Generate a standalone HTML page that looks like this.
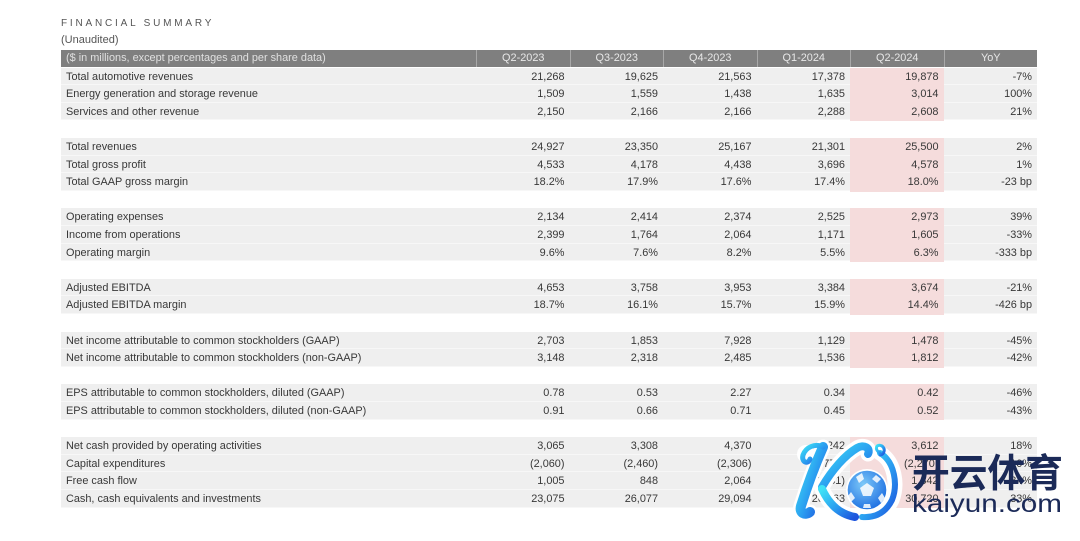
<!DOCTYPE html>
<html>
<head>
<meta charset="utf-8">
<style>
  html,body{margin:0;padding:0;background:#ffffff;}
  body{width:1080px;height:541px;position:relative;overflow:hidden;font-family:"Liberation Sans",Arial,sans-serif;color:#383838;}
  .title{position:absolute;left:61px;top:18px;font-size:10px;letter-spacing:2.8px;color:#555;}
  .sub{position:absolute;left:61px;top:34px;font-size:11px;color:#555;}
  .row{position:absolute;left:61px;width:976px;height:17.6px;display:grid;grid-template-columns:415px repeat(6,93.5px);font-size:10.9px;line-height:18.4px;background:#efefef;box-shadow:inset 0 -1px 0 #f7f7f7;}
  .row div{white-space:nowrap;text-align:right;padding-right:5px;}
  .row div:first-child{text-align:left;padding-left:5px;padding-right:0;}
  .row div:nth-child(6){background:#f5dcdc;}
  .hdr{background:#7f7f7f;color:#e8e8e8;height:17px;line-height:17px;box-shadow:none;}
  .hdr div{text-align:center !important;padding-right:0 !important;border-left:1px solid #a8a8a8;}
  .hdr div:first-child{text-align:left !important;border-left:none;color:#e0e0e0;}
  .hdr div:nth-child(6){background:#7f7f7f;}
  svg{position:absolute;left:0;top:0;}
</style>
</head>
<body>
<div class="title">FINANCIAL SUMMARY</div>
<div class="sub">(Unaudited)</div>

<div class="row hdr" style="top:50px"><div>($ in millions, except percentages and per share data)</div><div>Q2-2023</div><div>Q3-2023</div><div>Q4-2023</div><div>Q1-2024</div><div>Q2-2024</div><div>YoY</div></div>

<div class="row" style="top:67.6px"><div>Total automotive revenues</div><div>21,268</div><div>19,625</div><div>21,563</div><div>17,378</div><div>19,878</div><div>-7%</div></div>
<div class="row" style="top:85.2px"><div>Energy generation and storage revenue</div><div>1,509</div><div>1,559</div><div>1,438</div><div>1,635</div><div>3,014</div><div>100%</div></div>
<div class="row" style="top:102.8px"><div>Services and other revenue</div><div>2,150</div><div>2,166</div><div>2,166</div><div>2,288</div><div>2,608</div><div>21%</div></div>

<div class="row" style="top:138px"><div>Total revenues</div><div>24,927</div><div>23,350</div><div>25,167</div><div>21,301</div><div>25,500</div><div>2%</div></div>
<div class="row" style="top:155.6px"><div>Total gross profit</div><div>4,533</div><div>4,178</div><div>4,438</div><div>3,696</div><div>4,578</div><div>1%</div></div>
<div class="row" style="top:173.2px"><div>Total GAAP gross margin</div><div>18.2%</div><div>17.9%</div><div>17.6%</div><div>17.4%</div><div>18.0%</div><div>-23 bp</div></div>

<div class="row" style="top:208.4px"><div>Operating expenses</div><div>2,134</div><div>2,414</div><div>2,374</div><div>2,525</div><div>2,973</div><div>39%</div></div>
<div class="row" style="top:226px"><div>Income from operations</div><div>2,399</div><div>1,764</div><div>2,064</div><div>1,171</div><div>1,605</div><div>-33%</div></div>
<div class="row" style="top:243.6px"><div>Operating margin</div><div>9.6%</div><div>7.6%</div><div>8.2%</div><div>5.5%</div><div>6.3%</div><div>-333 bp</div></div>

<div class="row" style="top:278.8px"><div>Adjusted EBITDA</div><div>4,653</div><div>3,758</div><div>3,953</div><div>3,384</div><div>3,674</div><div>-21%</div></div>
<div class="row" style="top:296.4px"><div>Adjusted EBITDA margin</div><div>18.7%</div><div>16.1%</div><div>15.7%</div><div>15.9%</div><div>14.4%</div><div>-426 bp</div></div>

<div class="row" style="top:331.6px"><div>Net income attributable to common stockholders (GAAP)</div><div>2,703</div><div>1,853</div><div>7,928</div><div>1,129</div><div>1,478</div><div>-45%</div></div>
<div class="row" style="top:349.2px"><div>Net income attributable to common stockholders (non-GAAP)</div><div>3,148</div><div>2,318</div><div>2,485</div><div>1,536</div><div>1,812</div><div>-42%</div></div>

<div class="row" style="top:384.4px"><div>EPS attributable to common stockholders, diluted (GAAP)</div><div>0.78</div><div>0.53</div><div>2.27</div><div>0.34</div><div>0.42</div><div>-46%</div></div>
<div class="row" style="top:402px"><div>EPS attributable to common stockholders, diluted (non-GAAP)</div><div>0.91</div><div>0.66</div><div>0.71</div><div>0.45</div><div>0.52</div><div>-43%</div></div>

<div class="row" style="top:437.2px"><div>Net cash provided by operating activities</div><div>3,065</div><div>3,308</div><div>4,370</div><div>242</div><div>3,612</div><div>18%</div></div>
<div class="row" style="top:454.8px"><div>Capital expenditures</div><div>(2,060)</div><div>(2,460)</div><div>(2,306)</div><div>(2,773)</div><div>(2,270)</div><div>10%</div></div>
<div class="row" style="top:472.4px"><div>Free cash flow</div><div>1,005</div><div>848</div><div>2,064</div><div>(2,531)</div><div>1,342</div><div>34%</div></div>
<div class="row" style="top:490px"><div>Cash, cash equivalents and investments</div><div>23,075</div><div>26,077</div><div>29,094</div><div>26,863</div><div>30,720</div><div>33%</div></div>

<svg width="1080" height="541" viewBox="0 0 1080 541">
  <defs>
    <linearGradient id="kg" x1="0" y1="0" x2="1" y2="1">
      <stop offset="0" stop-color="#3fe3f6"/>
      <stop offset="0.55" stop-color="#2a9cf0"/>
      <stop offset="1" stop-color="#1d55dd"/>
    </linearGradient>
    <radialGradient id="bg" cx="0.4" cy="0.35" r="0.7">
      <stop offset="0" stop-color="#7cc8f8"/>
      <stop offset="1" stop-color="#1f6fe2"/>
    </radialGradient>
  </defs>
  <g fill="none" stroke-linecap="round" stroke-linejoin="round">
    <!-- white outlines -->
    <g stroke="#ffffff" stroke-width="15">
      <path d="M823 447 C815 465 806 490 801 506 C799 513 805 516 810 512"/>
      <path d="M822 487 C832 470 845 455 857 448 C864 444 871 448 868 454"/>
      <path d="M822 489 C828 502 838 514 855 517"/>
      <path d="M880 453 C895 462 898 485 892 500 C886 512 876 518 862 517"/>
    </g>
    <circle cx="806" cy="454" r="9" fill="#fff" stroke="none"/>
    <!-- K strokes -->
    <path d="M823 447 C815 465 806 490 801 506 C799 513 805 516 810 512" stroke="url(#kg)" stroke-width="10"/>
    <path d="M823 447 C815 443 806 447 803 455 C801 462 808 465 810 459" stroke="url(#kg)" stroke-width="5"/>
    <path d="M822 487 C832 470 845 455 857 448 C864 444 871 448 868 454" stroke="url(#kg)" stroke-width="8"/>
    <path d="M822 489 C828 502 838 514 855 517" stroke="url(#kg)" stroke-width="8"/>
    <path d="M880 453 C895 462 898 485 892 500 C886 512 876 518 862 517" stroke="url(#kg)" stroke-width="6"/>
    <path d="M880 453 C874 450 876 443 882 446 C886 449 884 455 880 455" stroke="url(#kg)" stroke-width="3"/>
  </g>
  <!-- ball -->
  <circle cx="867" cy="490" r="21" fill="#ffffff"/>
  <circle cx="867" cy="490" r="19.3" fill="url(#bg)"/>
  <g fill="#ffffff" opacity="0.85">
    <polygon points="867,483 874,488 871,496 863,496 860,488"/>
    <polygon points="856,477 862,473 864,479 859,483"/>
    <polygon points="876,475 881,479 877,483 872,479"/>
    <polygon points="851,492 855,498 851,502 848,496"/>
    <polygon points="882,493 885,498 881,503 878,498"/>
    <polygon points="864,504 870,504 871,508 863,508"/>
  </g>
  <text x="912" y="487" font-family="'Noto Sans CJK SC','WenQuanYi Zen Hei',sans-serif" font-weight="700" font-size="39" fill="#1b2a58" textLength="151" lengthAdjust="spacingAndGlyphs">开云体育</text>
  <text x="912" y="512" font-family="'Liberation Sans',sans-serif" font-size="25" fill="#1b2a58" textLength="150" lengthAdjust="spacingAndGlyphs">kaiyun.com</text>
</svg>
</body>
</html>
